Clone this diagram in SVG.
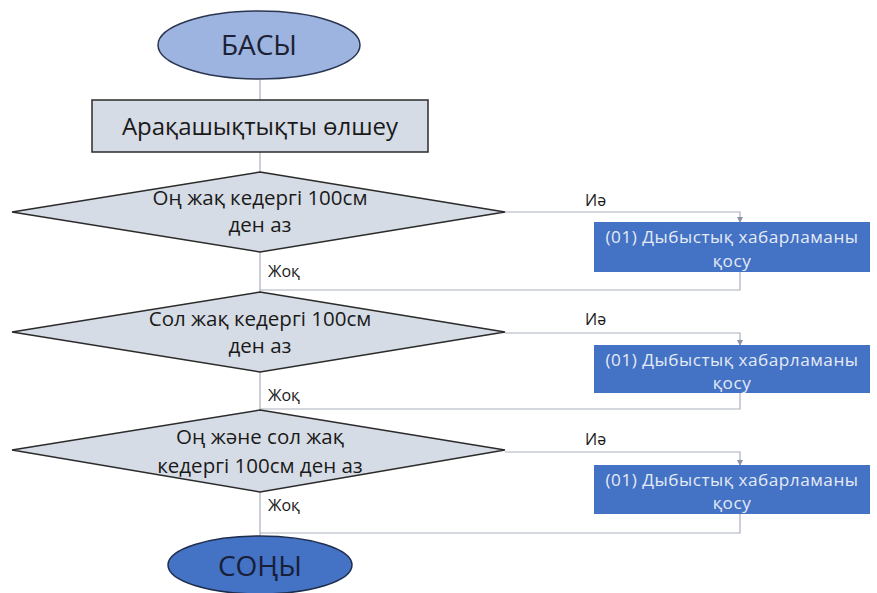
<svg xmlns="http://www.w3.org/2000/svg" width="877" height="593" viewBox="0 0 877 593">
<defs>
<marker id="arr" markerWidth="6" markerHeight="6" refX="5" refY="3" orient="auto" markerUnits="userSpaceOnUse">
<path d="M0,0 L6,3 L0,6 z" fill="#8a95a8"/>
</marker>
</defs>
<style>
.t{font-family:"Open Sans","Noto Sans","Liberation Sans",sans-serif;}
.dia{fill:#d6dce5;stroke:#2b2b2b;stroke-width:1.5;}
.box{fill:#4472c4;}
.bt{fill:#e4ebf7;font-size:17.2px;letter-spacing:0.5px;text-anchor:middle;}
.dt{fill:#1a1a1a;font-size:20.5px;text-anchor:middle;}
.lbl{fill:#1a1a1a;font-size:16px;}
.c{fill:none;stroke:#a9b0bb;stroke-width:1.2;}
</style>
<rect width="877" height="593" fill="#ffffff"/>
<g id="connectors">
<path class="c" d="M260,80 V100"/>
<path class="c" d="M260,152 V172"/>
<path class="c" d="M505,212 H740 V222" marker-end="url(#arr)"/>
<path class="c" d="M740,272 V290 H260"/>
<path class="c" d="M260,252 V292"/>
<path class="c" d="M505,333 H740 V345" marker-end="url(#arr)"/>
<path class="c" d="M740,393 V409 H260"/>
<path class="c" d="M260,372 V410"/>
<path class="c" d="M505,452 H740 V465" marker-end="url(#arr)"/>
<path class="c" d="M740,514 V533 H260"/>
<path class="c" d="M260,492 V537"/>
</g>
<g id="start">
<ellipse cx="259" cy="45" rx="101" ry="34" fill="#9db3e0" stroke="#2a3650" stroke-width="1.5"/>
<text class="t" x="259" y="55" font-size="28" text-anchor="middle" fill="#1c2233">БАСЫ</text>
</g>
<g id="measure">
<rect x="92" y="100" width="336" height="52" fill="#d6dce5" stroke="#2b2b2b" stroke-width="1.5"/>
<text class="t" x="260" y="135" font-size="24" text-anchor="middle" fill="#1a1a1a">Арақашықтықты өлшеу</text>
</g>
<g id="dec1">
<polygon class="dia" points="260,172 505,212 260,252 12,212"/>
<text class="t dt" x="260" y="205">Оң жақ кедергі 100см</text>
<text class="t dt" x="260" y="232">ден аз</text>
</g>
<g id="dec2">
<polygon class="dia" points="260,292 505,332 260,372 12,332"/>
<text class="t dt" x="260" y="326">Сол жақ кедергі 100см</text>
<text class="t dt" x="260" y="353">ден аз</text>
</g>
<g id="dec3">
<polygon class="dia" points="260,410 505,450 260,492 12,450"/>
<text class="t dt" x="260" y="444">Оң және сол жақ</text>
<text class="t dt" x="260" y="473">кедергі 100см ден аз</text>
</g>
<g id="act1">
<rect class="box" x="594" y="222" width="276" height="50"/>
<text class="t bt" x="732" y="243">(01) Дыбыстық хабарламаны</text>
<text class="t bt" x="732" y="266.5">қосу</text>
</g>
<g id="act2">
<rect class="box" x="594" y="345" width="276" height="48"/>
<text class="t bt" x="732" y="365.5">(01) Дыбыстық хабарламаны</text>
<text class="t bt" x="732" y="389">қосу</text>
</g>
<g id="act3">
<rect class="box" x="594" y="465" width="276" height="49"/>
<text class="t bt" x="732" y="485.5">(01) Дыбыстық хабарламаны</text>
<text class="t bt" x="732" y="509">қосу</text>
</g>
<g id="labels">
<text class="t lbl" x="585" y="206">Иә</text>
<text class="t lbl" x="268" y="277">Жоқ</text>
<text class="t lbl" x="585" y="325">Иә</text>
<text class="t lbl" x="268" y="401">Жоқ</text>
<text class="t lbl" x="585" y="445">Иә</text>
<text class="t lbl" x="268" y="511">Жоқ</text>
</g>
<g id="end">
<ellipse cx="260" cy="565" rx="92" ry="29" fill="#4472c4" stroke="#1f2d4d" stroke-width="1.5"/>
<text class="t" x="260" y="576" font-size="28" text-anchor="middle" fill="#172038">СОҢЫ</text>
</g>
</svg>
